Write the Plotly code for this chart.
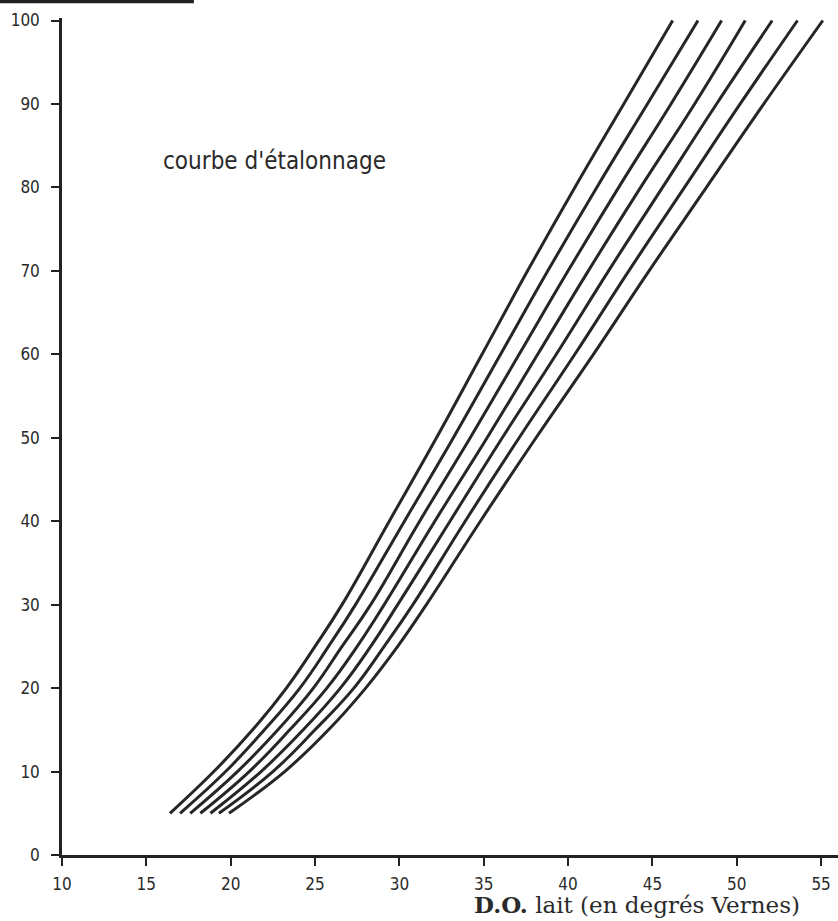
import plotly.graph_objects as go

# y levels (ordinate) at which each curve's abscissa was read
y_levels = [5, 10, 15, 20, 25, 30, 40, 50, 60, 70, 80, 90, 100]

# abscissa (D.O. lait, degrés Vernes) of each of the 7 calibration curves
curve_1 = [16.4, 19.0, 21.3, 23.3, 25.0, 26.6, 29.4, 32.2, 34.9, 37.6, 40.4, 43.3, 46.2]
curve_2 = [17.0, 19.7, 22.0, 24.1, 25.8, 27.4, 30.3, 33.2, 36.0, 38.8, 41.7, 44.7, 47.7]
curve_3 = [17.6, 20.4, 22.8, 24.9, 26.6, 28.3, 31.2, 34.2, 37.1, 40.0, 43.0, 46.1, 49.1]
curve_4 = [18.2, 21.1, 23.5, 25.7, 27.5, 29.1, 32.1, 35.2, 38.2, 41.2, 44.3, 47.5, 50.5]
curve_5 = [18.8, 21.8, 24.3, 26.5, 28.3, 29.9, 33.0, 36.1, 39.3, 42.4, 45.6, 48.8, 52.1]
curve_6 = [19.3, 22.5, 25.0, 27.3, 29.1, 30.8, 33.9, 37.1, 40.4, 43.6, 46.9, 50.2, 53.6]
curve_7 = [19.9, 23.2, 25.8, 28.0, 29.9, 31.6, 34.8, 38.1, 41.5, 44.8, 48.2, 51.6, 55.1]

curves = [curve_1, curve_2, curve_3, curve_4, curve_5, curve_6, curve_7]

x_ticks = [10, 15, 20, 25, 30, 35, 40, 45, 50, 55]
y_ticks = [0, 10, 20, 30, 40, 50, 60, 70, 80, 90, 100]

title_text = "courbe d'étalonnage"
x_title = "<b>D.O.</b> lait (en degrés Vernes)"

fig = go.Figure()
for c in curves:
    fig.add_trace(go.Scatter(
        x=c, y=y_levels, mode="lines",
        line=dict(color="#262626", width=3, shape="spline", smoothing=1.2),
        showlegend=False, hoverinfo="skip"))

tick_font = dict(family="DejaVu Sans Condensed, Roboto, sans-serif", size=17, color="#2a2a2a")

fig.update_xaxes(
    range=[10, 56], tickvals=x_ticks, ticktext=[str(v) for v in x_ticks],
    showgrid=False, zeroline=False, showline=True, linecolor="#222", linewidth=2.5,
    ticks="outside", ticklen=8, tickwidth=2, tickcolor="#222",
    tickfont=tick_font, ticklabelstandoff=4, automargin=False)
fig.update_yaxes(
    range=[0, 100.3], tickvals=y_ticks, ticktext=[str(v) for v in y_ticks],
    showgrid=False, zeroline=False, showline=True, linecolor="#222", linewidth=2.5,
    ticks="outside", ticklen=8, tickwidth=2, tickcolor="#222",
    tickfont=tick_font, ticklabelstandoff=8, automargin=False)

fig.add_annotation(
    text=title_text, xref="paper", yref="paper", x=0.127, y=0.829,
    xanchor="left", yanchor="middle", showarrow=False,
    font=dict(family="DejaVu Sans Condensed, Roboto, sans-serif", size=24, color="#2a2a2a"))

fig.add_annotation(
    text=x_title, xref="paper", yref="paper", x=0.953, y=-0.059,
    xanchor="right", yanchor="middle", showarrow=False,
    font=dict(family="DejaVu Serif, serif", size=23, color="#2a2a2a"))

# dark scan border at the top-left corner
fig.add_shape(type="line", xref="paper", yref="paper", x0=-0.08, x1=0.17, y0=1.020, y1=1.020,
              line=dict(color="#222", width=4))

fig.update_layout(
    width=838, height=921,
    margin=dict(l=62, r=0, t=18, b=66),
    paper_bgcolor="white", plot_bgcolor="white",
    showlegend=False)

fig.write_html(
    "out.html",
    config={"displayModeBar": False},
    post_script="document.body.style.margin='0';document.body.style.overflow='hidden';")
